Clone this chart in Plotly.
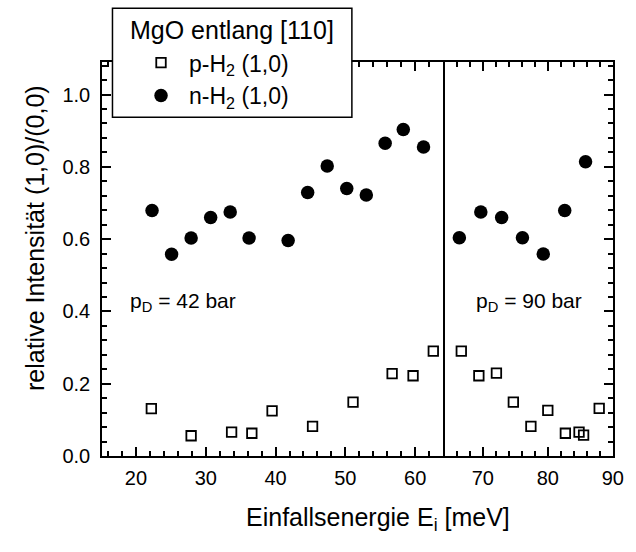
import plotly.graph_objects as go

# ---- data: p_D = 42 bar panel ----
e_n42 = [22.3, 25.1, 27.9, 30.7, 33.5, 36.2, 41.8, 44.6, 47.4, 50.2, 53.0, 55.7, 58.3, 61.2]
n_h2_42 = [0.679, 0.558, 0.603, 0.660, 0.675, 0.603, 0.596, 0.729, 0.802, 0.740, 0.722, 0.865, 0.903, 0.855]
e_p42 = [22.2, 27.9, 33.7, 36.6, 39.5, 45.3, 51.1, 56.7, 59.7, 62.6]
p_h2_42 = [0.131, 0.056, 0.066, 0.063, 0.125, 0.082, 0.149, 0.228, 0.222, 0.290]

# ---- data: p_D = 90 bar panel ----
e_n90 = [66.4, 69.7, 72.9, 76.1, 79.3, 82.6, 85.8]
n_h2_90 = [0.604, 0.675, 0.660, 0.604, 0.559, 0.679, 0.814]
e_p90 = [66.7, 69.4, 72.1, 74.7, 77.4, 80.0, 82.7, 84.8, 85.5, 87.9]
p_h2_90 = [0.290, 0.222, 0.229, 0.149, 0.082, 0.126, 0.063, 0.066, 0.058, 0.132]

# ---- axis ranges and tick spacing ----
x_range_42 = [15.13, 64.04]
x_range_90 = [63.94, 90.02]
y_range = [0.0, 1.09]
x_major_step, x_minor_step = 10, 2
y_major_step, y_minor_step = 0.2, 0.04

FONT = "Liberation Sans, Arial, Helvetica, sans-serif"
sq = dict(symbol="square-open", size=9.5, color="black", line=dict(width=1.8, color="black"))
ci = dict(symbol="circle", size=13.5, color="black", line=dict(width=0))

fig = go.Figure()
fig.add_trace(go.Scatter(x=e_p42, y=p_h2_42, mode="markers", marker=sq,
                         name="p-H<sub>2</sub> (1,0)", legendgroup="p", xaxis="x", yaxis="y"))
fig.add_trace(go.Scatter(x=e_n42, y=n_h2_42, mode="markers", marker=ci,
                         name="n-H<sub>2</sub> (1,0)", legendgroup="n", xaxis="x", yaxis="y"))
fig.add_trace(go.Scatter(x=e_p90, y=p_h2_90, mode="markers", marker=sq, showlegend=False,
                         name="p-H<sub>2</sub> (1,0)", legendgroup="p", xaxis="x2", yaxis="y2"))
fig.add_trace(go.Scatter(x=e_n90, y=n_h2_90, mode="markers", marker=ci, showlegend=False,
                         name="n-H<sub>2</sub> (1,0)", legendgroup="n", xaxis="x2", yaxis="y2"))

split = 0.668
tickfont = dict(family=FONT, size=20, color="black")
TW = 1.5


def xstyle(rng):
    return dict(range=rng, tickmode="linear", tick0=0, dtick=x_major_step,
                ticks="inside", ticklen=9, tickwidth=TW, tickcolor="black",
                showline=True, linewidth=1.5, linecolor="black", mirror="ticks",
                showgrid=False, zeroline=False, tickfont=tickfont, ticklabelstandoff=3,
                minor=dict(tickmode="linear", tick0=0, dtick=x_minor_step, ticks="inside",
                           ticklen=5, tickwidth=TW, tickcolor="black", showgrid=False))


def ystyle():
    return dict(range=y_range, tickmode="linear", tick0=0, dtick=y_major_step,
                ticks="inside", ticklen=9, tickwidth=TW, tickcolor="black",
                showline=True, linewidth=1.5, linecolor="black",
                showgrid=False, zeroline=False, tickfont=tickfont,
                minor=dict(tickmode="linear", tick0=0, dtick=y_minor_step, ticks="inside",
                           ticklen=5, tickwidth=TW, tickcolor="black", showgrid=False))


fig.update_layout(
    width=636, height=552,
    margin=dict(l=102, r=12, t=62, b=96),
    paper_bgcolor="white", plot_bgcolor="white",
    font=dict(family=FONT, color="black"),
    xaxis=dict(domain=[0, split], anchor="y", **xstyle(x_range_42)),
    xaxis2=dict(domain=[split, 1], anchor="y2", **xstyle(x_range_90)),
    yaxis=dict(domain=[0, 1], anchor="x", mirror=True, tickformat=".1f", ticklabelstandoff=6, **ystyle()),
    yaxis2=dict(domain=[0, 1], anchor="x2", side="right", showticklabels=False, **ystyle()),
    showlegend=True,
    legend=dict(x=0.0607, y=1.053, xanchor="left", yanchor="top",
                bgcolor="rgba(0,0,0,0)", borderwidth=0, itemwidth=46,
                font=dict(family=FONT, size=23, color="black"), tracegroupgap=0),
)

# axis titles
fig.add_annotation(xref="paper", yref="paper", x=0.54, y=-0.16,
                   text="Einfallsenergie E<sub>i</sub> [meV]", showarrow=False,
                   xanchor="center", yanchor="middle", font=dict(family=FONT, size=25, color="black"))
fig.add_annotation(xref="paper", yref="paper", x=-0.132, y=0.552, textangle=-90,
                   text="relative Intensität (1,0)/(0,0)", showarrow=False,
                   xanchor="center", yanchor="middle", font=dict(family=FONT, size=25, color="black"))

# legend box and title
fig.add_shape(type="rect", xref="paper", yref="paper", x0=0.0205, x1=0.489, y0=0.8596, y1=1.1363,
              line=dict(color="black", width=1.5), fillcolor="white", layer="above")
fig.add_annotation(xref="paper", yref="paper", x=0.2548, y=1.081, text="MgO entlang [110]",
                   showarrow=False, xanchor="center", yanchor="middle",
                   font=dict(family=FONT, size=25, color="black"))

# panel labels
fig.add_annotation(xref="paper", yref="paper", x=0.0517, y=0.391, text="p<sub>D</sub> = 42 bar",
                   showarrow=False, xanchor="left", yanchor="middle",
                   font=dict(family=FONT, size=21, color="black"))
fig.add_annotation(xref="paper", yref="paper", x=0.944, y=0.391, text="p<sub>D</sub> = 90 bar",
                   showarrow=False, xanchor="right", yanchor="middle",
                   font=dict(family=FONT, size=21, color="black"))

fig.write_html("out.html")
